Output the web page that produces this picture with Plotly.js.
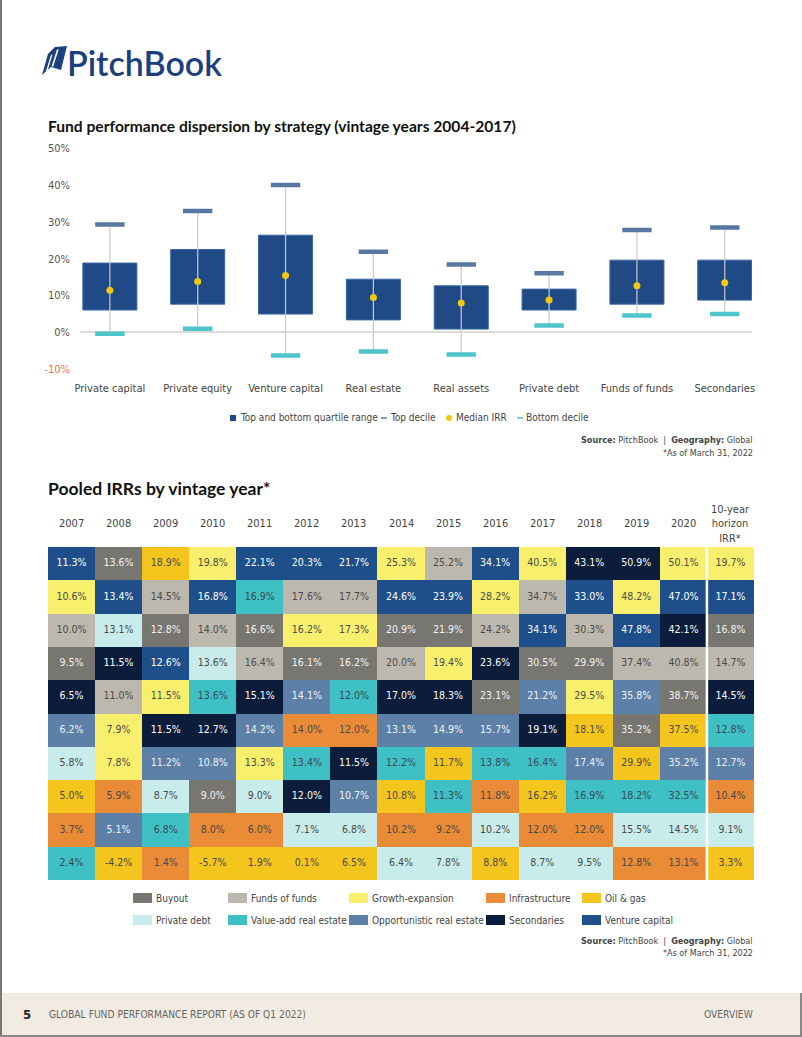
<!DOCTYPE html>
<html><head><meta charset="utf-8">
<script src="https://cdn.plot.ly/plotly-3.0.1.min.js"></script>
<style>html,body{margin:0;padding:0;background:#fff;}#chart{width:802px;height:1037px;}</style>
</head><body><div id="chart"></div>
<script>
// ---------- Chart 1 data ----------
const strategies = ["Private capital","Private equity","Venture capital","Real estate","Real assets","Private debt","Funds of funds","Secondaries"];
const topDecile     = [29.3, 33.0, 40.1, 21.9, 18.4, 16.0, 27.8, 28.5];
const upperQuartile = [18.8, 22.5, 26.4, 14.4, 12.6, 11.7, 19.6, 19.6];
const medianIRR     = [11.4, 13.8, 15.4,  9.4,  7.9,  8.7, 12.6, 13.4];
const lowerQuartile = [ 6.0,  7.6,  4.9,  3.3,  0.8,  6.0,  7.6,  8.7];
const bottomDecile  = [-0.5,  0.9, -6.4, -5.3, -6.1,  1.8,  4.5,  4.9];
const yTickVals = [-10, 0, 10, 20, 30, 40, 50];

// ---------- Chart 2 data ----------
const vintageLabels = ["2007","2008","2009","2010","2011","2012","2013","2014","2015","2016","2017","2018","2019","2020","10-year<br>horizon<br>IRR*"];
const categoryNames = ["Buyout","Funds of funds","Growth-expansion","Infrastructure","Oil & gas","Private debt","Value-add real estate","Opportunistic real estate","Secondaries","Venture capital"];
const categoryCodes = ["B","F","G","I","O","P","V","R","S","C"];
const categoryColors = ["#787670","#bdb8ae","#f8f06c","#e98b37","#f4c51c","#c8ecec","#3fc0c5","#5d80a8","#0b1d3a","#1f4f8a"];
const categoryTextColors = ["#f2f2f2","#4a4a4a","#4a4a4a","#4a4a4a","#4a4a4a","#4a4a4a","#3a4a55","#eef2f6","#ffffff","#ffffff"];

const rankStrategy = [
  "C B O G C C C G F C G S S G G",
  "G C F C V F F C C G F C G C C",
  "F P B F B G G B B F C F C S B",
  "B S C P F B B F G S B B F F F",
  "S F G V S R V S S B R G R B S",
  "R G S S R I I R R R S O B O V",
  "P G R R G V S V O V V R O R R",
  "O I P B P S R O V I O V V V I",
  "I R V I I P P I I P I I P P P",
  "V O I O O O O P P O P P I I O"
];
const rankValues = [
  [11.3,13.6,18.9,19.8,22.1,20.3,21.7,25.3,25.2,34.1,40.5,43.1,50.9,50.1,19.7],
  [10.6,13.4,14.5,16.8,16.9,17.6,17.7,24.6,23.9,28.2,34.7,33.0,48.2,47.0,17.1],
  [10.0,13.1,12.8,14.0,16.6,16.2,17.3,20.9,21.9,24.2,34.1,30.3,47.8,42.1,16.8],
  [9.5,11.5,12.6,13.6,16.4,16.1,16.2,20.0,19.4,23.6,30.5,29.9,37.4,40.8,14.7],
  [6.5,11.0,11.5,13.6,15.1,14.1,12.0,17.0,18.3,23.1,21.2,29.5,35.8,38.7,14.5],
  [6.2,7.9,11.5,12.7,14.2,14.0,12.0,13.1,14.9,15.7,19.1,18.1,35.2,37.5,12.8],
  [5.8,7.8,11.2,10.8,13.3,13.4,11.5,12.2,11.7,13.8,16.4,17.4,29.9,35.2,12.7],
  [5.0,5.9,8.7,9.0,9.0,12.0,10.7,10.8,11.3,11.8,16.2,16.9,18.2,32.5,10.4],
  [3.7,5.1,6.8,8.0,6.0,7.1,6.8,10.2,9.2,10.2,12.0,12.0,15.5,14.5,9.1],
  [2.4,-4.2,1.4,-5.7,1.9,0.1,6.5,6.4,7.8,8.8,8.7,9.5,12.8,13.1,3.3]
];

// ---------- helpers ----------
const W = 802, H = 1037;
const fx = x => x / W;
const fy = y => 1 - y / H;
const NARROW = "'Liberation Sans Narrow','DejaVu Sans Condensed','Arial Narrow',sans-serif";
const HEAD = "Lato, 'Open Sans', sans-serif";

// ---------- traces chart 1 ----------
const whiskX = [], whiskY = [];
strategies.forEach((s, i) => { whiskX.push(s, s, null); whiskY.push(bottomDecile[i], topDecile[i], null); });

const traces = [
  {type:"scatter", mode:"lines", x:whiskX, y:whiskY, line:{color:"#c9c9c9", width:1.2},
   hoverinfo:"skip", showlegend:false, xaxis:"x", yaxis:"y"},
  {type:"bar", x:strategies, y:upperQuartile.map((u,i)=>u-lowerQuartile[i]), base:lowerQuartile,
   width:0.615, marker:{color:"#1f4a86", line:{color:"#3a66a3", width:1}},
   name:"Top and bottom quartile range", showlegend:false, xaxis:"x", yaxis:"y"},
  {type:"scatter", mode:"markers", x:strategies, y:topDecile, name:"Top decile", showlegend:false,
   marker:{symbol:"line-ew", size:21, line:{color:"#5878a3", width:4.5}}, xaxis:"x", yaxis:"y"},
  {type:"scatter", mode:"markers", x:strategies, y:bottomDecile, name:"Bottom decile", showlegend:false,
   marker:{symbol:"line-ew", size:21, line:{color:"#4dc5c9", width:4.5}}, xaxis:"x", yaxis:"y"},
  {type:"scatter", mode:"markers", x:strategies, y:medianIRR, name:"Median IRR", showlegend:false,
   marker:{symbol:"circle", size:7, color:"#f2c811"}, xaxis:"x", yaxis:"y"}
];

// ---------- heatmap ----------
const colIdx = vintageLabels.map((_, i) => i);
const rowIdx = rankValues.map((_, i) => i);
const zCat = rankStrategy.map(r => r.split(" ").map(c => categoryCodes.indexOf(c)));
const cs = [];
categoryColors.forEach((c, i) => { cs.push([i/10, c]); cs.push([(i+1)/10, c]); });
traces.push({type:"heatmap", x:colIdx, y:rowIdx, z:zCat, zmin:-0.5, zmax:9.5, colorscale:cs,
  showscale:false, hoverinfo:"skip", xaxis:"x2", yaxis:"y2"});

const tx = [], ty = [], tt = [], tc = [];
rankValues.forEach((row, r) => row.forEach((v, c) => {
  tx.push(c); ty.push(r); tt.push(v.toFixed(1) + "%");
  tc.push(categoryTextColors[zCat[r][c]]);
}));
traces.push({type:"scatter", mode:"text", x:tx, y:ty, text:tt,
  textfont:{family:NARROW, size:10.5, color:tc}, hoverinfo:"skip", showlegend:false, xaxis:"x2", yaxis:"y2"});

// ---------- annotations & shapes ----------
const ann = [], shp = [];
const txt = (x, y, text, opt) => ann.push(Object.assign({xref:"paper", yref:"paper", x:fx(x), y:fy(y), text,
  showarrow:false, xanchor:"left", yanchor:"middle", borderpad:0, font:{family:NARROW, size:11, color:"#444"}}, opt||{}));

// logo
txt(66, 62, "PitchBook", {font:{family:HEAD, size:34, color:"#1c3f7e", weight:600}});
const P = pts => pts.map((p, i) => (i ? "L" : "M") + fx(p[0]).toFixed(5) + "," + fy(p[1]).toFixed(5)).join(" ") + " Z";
shp.push({type:"path", xref:"paper", yref:"paper", path:P([[42,75],[48,54],[55,47],[67,46],[61,70],[51,67]]), fillcolor:"#1c3f7e", line:{width:0}});
shp.push({type:"path", xref:"paper", yref:"paper", path:P([[45.5,72.5],[51,55],[52.5,54.5],[47,72.5]]), fillcolor:"#ffffff", line:{width:0}});
shp.push({type:"path", xref:"paper", yref:"paper", path:P([[51.5,66.5],[57,49.5],[58.7,49.5],[53.2,66.5]]), fillcolor:"#ffffff", line:{width:0}});

// titles
txt(47, 126, "Fund performance dispersion by strategy (vintage years 2004-2017)", {font:{family:HEAD, size:15.6, color:"#111", weight:700}});
txt(47, 489, "Pooled IRRs by vintage year*", {font:{family:HEAD, size:17.5, color:"#111", weight:700}});

// chart1 legend
const LEGF = {family:NARROW, size:10, color:"#444"};
shp.push({type:"rect", xref:"paper", yref:"paper", x0:fx(230), x1:fx(236), y0:fy(415), y1:fy(421), fillcolor:"#1f4a86", line:{width:0}});
txt(239, 418, "Top and bottom quartile range", {font:LEGF});
shp.push({type:"line", xref:"paper", yref:"paper", x0:fx(381), x1:fx(387), y0:fy(418), y1:fy(418), line:{color:"#5878a3", width:1.5}});
txt(389, 418, "Top decile", {font:LEGF});
shp.push({type:"circle", xref:"paper", yref:"paper", x0:fx(446), x1:fx(452), y0:fy(415), y1:fy(421), fillcolor:"#f2c811", line:{width:0}});
txt(455, 418, "Median IRR", {font:LEGF});
shp.push({type:"line", xref:"paper", yref:"paper", x0:fx(517), x1:fx(523), y0:fy(418), y1:fy(418), line:{color:"#4dc5c9", width:1.5}});
txt(525, 418, "Bottom decile", {font:LEGF});

// sources
[[440, 453], [941, 953]].forEach(([a, b]) => {
  txt(754, a, "<b>Source:</b> PitchBook  |  <b>Geography:</b> Global", {xanchor:"right", font:{family:NARROW, size:9, color:"#444"}});
  txt(754, b, "*As of March 31, 2022", {xanchor:"right", font:{family:NARROW, size:9, color:"#444"}});
});

// heatmap headers
vintageLabels.forEach((lab, i) => {
  ann.push({xref:"x2", yref:"paper", x:i, y:fy(i === vintageLabels.length-1 ? 524 : 523), text:lab, showarrow:false,
    xanchor:"center", yanchor:"middle", font:{family:NARROW, size:11, color:"#444"}});
});
shp.push({type:"line", xref:"x2", yref:"y2", x0:13.5, x1:13.5, y0:-0.5, y1:9.5, line:{color:"#ffffff", width:2.5}});

// heatmap legend
const legCols = [133, 228, 349, 486, 582], legRows = [898, 920];
categoryNames.forEach((n, i) => {
  const x = legCols[i % 5], y = legRows[Math.floor(i / 5)];
  shp.push({type:"rect", xref:"paper", yref:"paper", x0:fx(x), x1:fx(x+19), y0:fy(y-5), y1:fy(y+5), fillcolor:categoryColors[i], line:{width:0}});
  txt(x + 22, y, n, {font:LEGF});
});

// footer & borders
shp.push({type:"rect", xref:"paper", yref:"paper", x0:0, x1:1, y0:0, y1:fy(993), fillcolor:"#f1ebe2", line:{width:0}, layer:"below"});
shp.push({type:"line", xref:"paper", yref:"paper", x0:fx(1), x1:fx(1), y0:0, y1:1, line:{color:"#777", width:2}});
shp.push({type:"line", xref:"paper", yref:"paper", x0:0, x1:1, y0:fy(1036), y1:fy(1036), line:{color:"#888", width:2}});
shp.push({type:"line", xref:"paper", yref:"paper", x0:fx(801), x1:fx(801), y0:0, y1:fy(993), line:{color:"#888", width:2}});
txt(22, 1014, "<b>5</b>", {font:{family:NARROW, size:13, color:"#222"}});
txt(48, 1014, "GLOBAL FUND PERFORMANCE REPORT (AS OF Q1 2022)", {font:{family:NARROW, size:10.2, color:"#666"}});
txt(754, 1014, "OVERVIEW", {xanchor:"right", font:{family:NARROW, size:10.2, color:"#666"}});

// ---------- layout ----------
const layout = {
  width:W, height:H, margin:{l:0, r:0, t:0, b:0}, paper_bgcolor:"#ffffff", plot_bgcolor:"rgba(0,0,0,0)",
  showlegend:false, font:{family:NARROW, color:"#444"},
  xaxis:{type:"category", domain:[fx(80), fx(752)], range:[-0.34, 7.31], anchor:"y", showgrid:false, showline:false,
    ticks:"", tickfont:{family:NARROW, size:11, color:"#444"}, fixedrange:true},
  yaxis:{domain:[fy(379.7), fy(141.3)], range:[-13, 52], anchor:"x", showgrid:false, showline:false, ticks:"",
    zeroline:true, zerolinecolor:"#dcdcdc", zerolinewidth:2, tickvals:yTickVals,
    ticktext:yTickVals.map(v => v < 0 ? '<span style="color:#e8735a">' + v + '%</span>' : v + '%'),
    tickfont:{family:NARROW, size:11, color:"#555"}, ticklabelstandoff:9, fixedrange:true},
  xaxis2:{domain:[fx(48), fx(754)], range:[-0.5, 14.5], anchor:"y2", visible:false, fixedrange:true},
  yaxis2:{domain:[fy(880), fy(547)], range:[9.5, -0.5], anchor:"x2", visible:false, fixedrange:true},
  annotations:ann, shapes:shp
};
Plotly.newPlot("chart", traces, layout, {displayModeBar:false, staticPlot:true});
</script></body></html>
